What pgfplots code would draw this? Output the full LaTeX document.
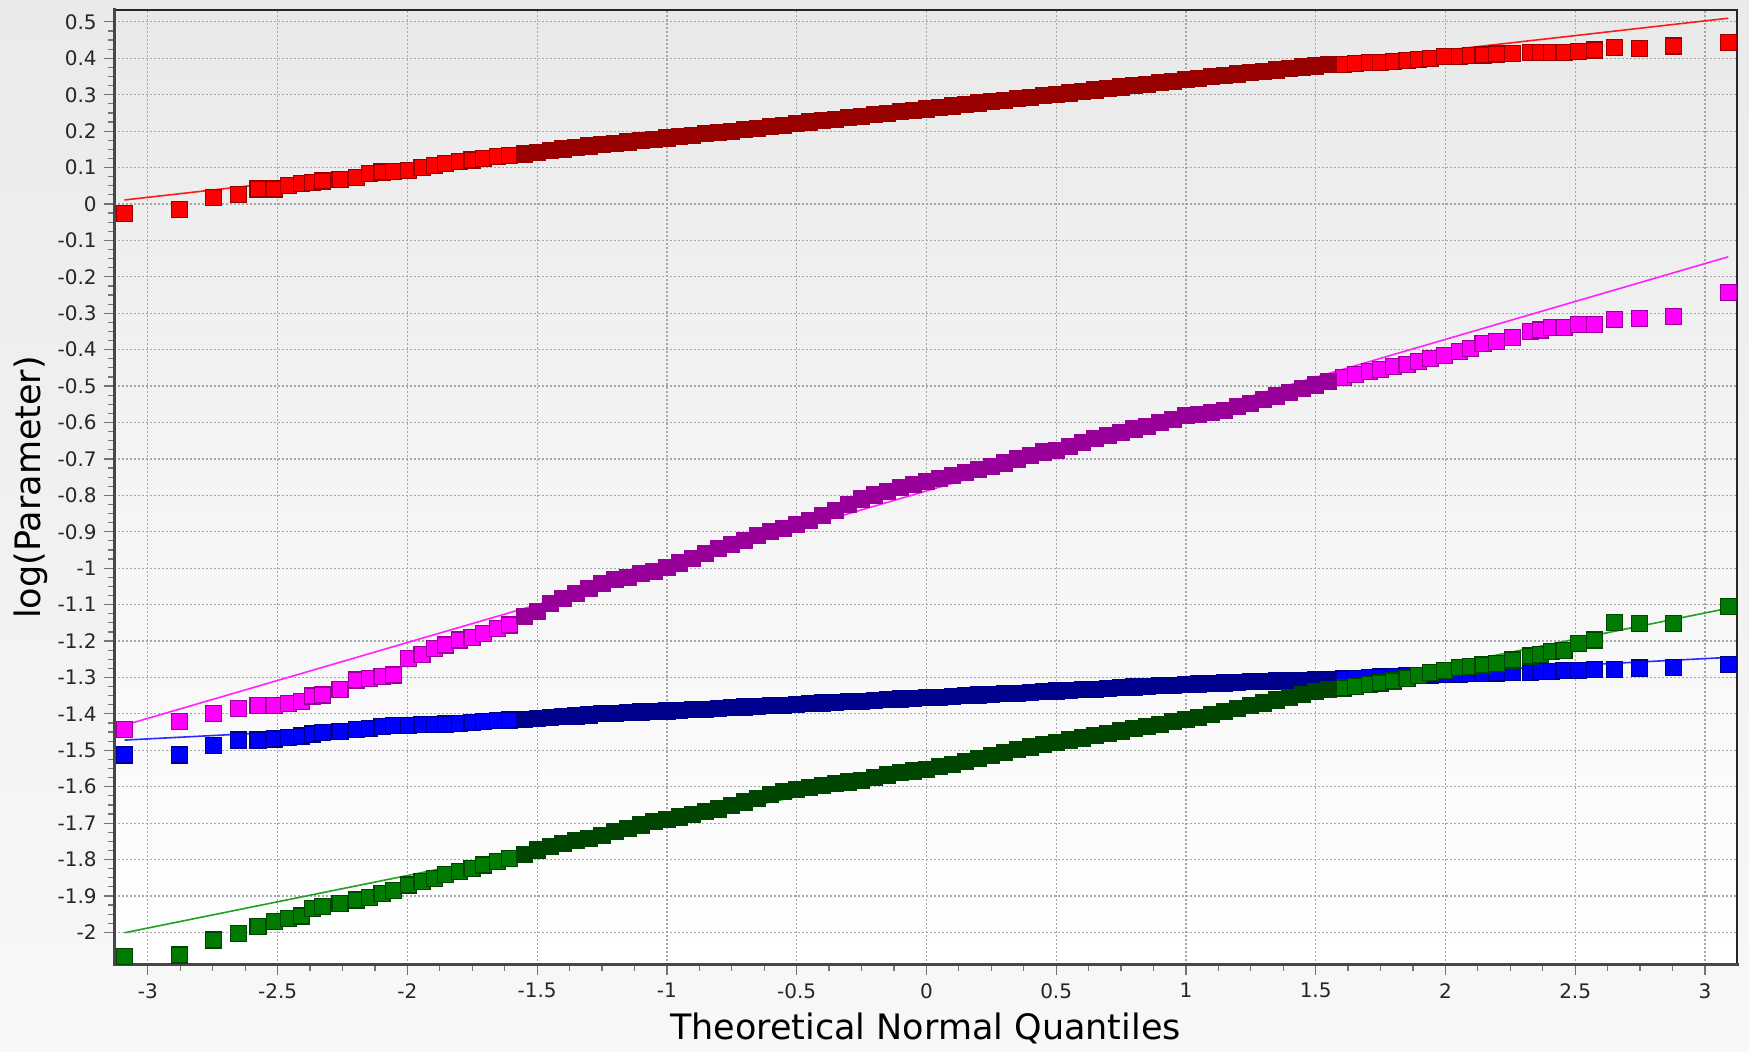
\documentclass[border=0pt]{standalone}
\usepackage{fontspec}
\setmainfont{DejaVu Sans}
\usepackage{pgfplots}
\usepackage{pgfplotstable}
\pgfplotsset{compat=1.18}

\definecolor{bgtop}{HTML}{EAEAEA}
\definecolor{bgbot}{HTML}{F8F8F8}
\definecolor{plottop}{HTML}{E9E9E9}
\definecolor{rfill}{HTML}{FF0000}
\definecolor{rdark}{HTML}{990000}
\definecolor{rline}{HTML}{FF1A1A}
\definecolor{mfill}{HTML}{FF00FF}
\definecolor{mdark}{HTML}{990099}
\definecolor{mline}{HTML}{FF22FF}
\definecolor{bfill}{HTML}{0000FF}
\definecolor{bdark}{HTML}{00008E}
\definecolor{bline}{HTML}{2A2AFF}
\definecolor{gfill}{HTML}{007A00}
\definecolor{gdark}{HTML}{004600}
\definecolor{gline}{HTML}{22A022}

% x = theoretical quantile; r, m, b, g = the four series
\pgfplotstableread{
x r m b g
-3.090 -0.026 -1.442 -1.513 -2.067
-2.878 -0.015 -1.421 -1.513 -2.062
-2.748 0.017 -1.400 -1.487 -2.021
-2.652 0.027 -1.385 -1.472 -2.004
-2.576 0.041 -1.378 -1.472 -1.984
-2.512 0.041 -1.376 -1.469 -1.971
-2.457 0.050 -1.371 -1.464 -1.961
-2.409 0.057 -1.367 -1.461 -1.955
-2.366 0.060 -1.351 -1.455 -1.934
-2.327 0.063 -1.348 -1.452 -1.929
-2.260 0.068 -1.334 -1.449 -1.920
-2.197 0.072 -1.307 -1.444 -1.911
-2.145 0.084 -1.302 -1.440 -1.904
-2.098 0.088 -1.298 -1.435 -1.893
-2.054 0.090 -1.293 -1.433 -1.884
-1.996 0.093 -1.247 -1.431 -1.870
-1.944 0.100 -1.238 -1.430 -1.861
-1.896 0.105 -1.220 -1.429 -1.852
-1.852 0.112 -1.211 -1.428 -1.842
-1.799 0.116 -1.197 -1.426 -1.833
-1.751 0.121 -1.190 -1.423 -1.824
-1.706 0.124 -1.179 -1.421 -1.815
-1.654 0.130 -1.165 -1.419 -1.806
-1.607 0.134 -1.156 -1.417 -1.797
1.607 0.384 -0.476 -1.304 -1.329
1.654 0.386 -0.469 -1.302 -1.325
1.706 0.388 -0.461 -1.300 -1.320
1.751 0.389 -0.455 -1.299 -1.315
1.799 0.391 -0.447 -1.297 -1.310
1.852 0.393 -0.440 -1.295 -1.302
1.896 0.397 -0.433 -1.294 -1.294
1.944 0.400 -0.425 -1.293 -1.286
1.996 0.404 -0.416 -1.292 -1.280
2.054 0.406 -0.404 -1.291 -1.273
2.098 0.407 -0.396 -1.290 -1.270
2.145 0.409 -0.384 -1.289 -1.266
2.197 0.412 -0.377 -1.288 -1.261
2.260 0.414 -0.366 -1.287 -1.252
2.327 0.416 -0.350 -1.286 -1.241
2.366 0.417 -0.346 -1.284 -1.236
2.409 0.417 -0.339 -1.284 -1.229
2.457 0.417 -0.339 -1.281 -1.225
2.512 0.418 -0.330 -1.281 -1.206
2.576 0.423 -0.330 -1.279 -1.197
2.652 0.429 -0.318 -1.279 -1.150
2.748 0.428 -0.314 -1.274 -1.151
2.878 0.434 -0.309 -1.273 -1.151
3.090 0.443 -0.243 -1.264 -1.106
}\tails

\pgfplotstableread{
x r m b g
-1.55 0.137 -1.133 -1.415 -1.787
-1.50 0.142 -1.119 -1.412 -1.774
-1.45 0.146 -1.097 -1.409 -1.765
-1.40 0.151 -1.083 -1.407 -1.755
-1.35 0.155 -1.069 -1.406 -1.748
-1.30 0.159 -1.055 -1.403 -1.742
-1.25 0.163 -1.042 -1.400 -1.733
-1.20 0.166 -1.032 -1.398 -1.723
-1.15 0.170 -1.025 -1.397 -1.714
-1.10 0.175 -1.015 -1.395 -1.705
-1.05 0.178 -1.010 -1.394 -1.696
-1.00 0.181 -0.999 -1.392 -1.690
-0.95 0.185 -0.986 -1.390 -1.683
-0.90 0.189 -0.973 -1.389 -1.676
-0.85 0.193 -0.960 -1.387 -1.669
-0.80 0.197 -0.947 -1.385 -1.661
-0.75 0.200 -0.935 -1.383 -1.652
-0.70 0.204 -0.923 -1.381 -1.642
-0.65 0.208 -0.910 -1.379 -1.632
-0.60 0.212 -0.900 -1.378 -1.622
-0.55 0.216 -0.892 -1.376 -1.614
-0.50 0.221 -0.881 -1.374 -1.608
-0.45 0.225 -0.868 -1.372 -1.602
-0.40 0.229 -0.855 -1.370 -1.597
-0.35 0.233 -0.841 -1.368 -1.592
-0.30 0.237 -0.826 -1.367 -1.587
-0.25 0.241 -0.810 -1.365 -1.582
-0.20 0.245 -0.799 -1.363 -1.575
-0.15 0.249 -0.789 -1.361 -1.568
-0.10 0.253 -0.779 -1.359 -1.562
-0.05 0.257 -0.770 -1.357 -1.557
0.00 0.261 -0.762 -1.356 -1.552
0.05 0.265 -0.753 -1.354 -1.545
0.10 0.269 -0.745 -1.352 -1.538
0.15 0.273 -0.737 -1.350 -1.530
0.20 0.277 -0.728 -1.348 -1.523
0.25 0.281 -0.720 -1.346 -1.514
0.30 0.285 -0.711 -1.345 -1.506
0.35 0.289 -0.700 -1.343 -1.498
0.40 0.293 -0.690 -1.341 -1.491
0.45 0.297 -0.681 -1.339 -1.484
0.50 0.301 -0.676 -1.337 -1.478
0.55 0.305 -0.665 -1.335 -1.472
0.60 0.309 -0.654 -1.334 -1.466
0.65 0.313 -0.644 -1.332 -1.460
0.70 0.317 -0.636 -1.330 -1.453
0.75 0.321 -0.627 -1.328 -1.447
0.80 0.325 -0.618 -1.326 -1.441
0.85 0.329 -0.610 -1.324 -1.435
0.90 0.333 -0.601 -1.323 -1.429
0.95 0.337 -0.591 -1.321 -1.422
1.00 0.341 -0.580 -1.320 -1.416
1.05 0.345 -0.578 -1.318 -1.410
1.10 0.349 -0.572 -1.317 -1.402
1.15 0.353 -0.566 -1.315 -1.394
1.20 0.357 -0.556 -1.314 -1.386
1.25 0.360 -0.547 -1.312 -1.378
1.30 0.364 -0.537 -1.311 -1.370
1.35 0.368 -0.527 -1.310 -1.362
1.40 0.372 -0.517 -1.309 -1.354
1.45 0.376 -0.507 -1.308 -1.346
1.50 0.379 -0.497 -1.307 -1.339
1.55 0.382 -0.487 -1.306 -1.334
}\mid

\pgfplotstableread{
x r m b g
-3.09 0.011 -1.431 -1.472 -2.001
3.09 0.510 -0.145 -1.245 -1.110
}\fits

\begin{document}
\begin{tikzpicture}
\useasboundingbox (0,0) rectangle (874.5pt,526pt);
\shade[top color=bgtop, bottom color=bgbot] (0,0) rectangle (874.5pt,526pt);
\begin{axis}[
  at={(57pt,43.5pt)}, anchor=south west,
  scale only axis, width=811.5pt, height=477.5pt,
  xmin=-3.1306, xmax=3.1237, ymin=-2.0895, ymax=0.5327,
  clip=false,
  axis line style={draw=none},
  axis background/.style={top color=plottop, bottom color=white},
  xtick={-3,-2.5,-2,-1.5,-1,-0.5,0,0.5,1,1.5,2,2.5,3},
  xticklabels={-3,-2.5,-2,-1.5,-1,-0.5,0,0.5,1,1.5,2,2.5,3},
  ytick={-2,-1.9,-1.8,-1.7,-1.6,-1.5,-1.4,-1.3,-1.2,-1.1,-1,-0.9,-0.8,-0.7,-0.6,-0.5,-0.4,-0.3,-0.2,-0.1,0,0.1,0.2,0.3,0.4,0.5},
  yticklabels={-2,-1.9,-1.8,-1.7,-1.6,-1.5,-1.4,-1.3,-1.2,-1.1,-1,-0.9,-0.8,-0.7,-0.6,-0.5,-0.4,-0.3,-0.2,-0.1,0,0.1,0.2,0.3,0.4,0.5},
  minor tick num=3,
  tick align=outside,
  xtick pos=bottom, ytick pos=left,
  major tick length=5pt, minor tick length=3pt,
  major tick style={line width=0.6pt, black!55},
  minor tick style={line width=0.6pt, black!55},
  grid=major,
  major grid style={line width=0.6pt, black!35, dash pattern=on 0.8pt off 1.2pt},
  xticklabel style={font=\fontsize{10}{12}\selectfont, text=black!85, inner sep=0pt, anchor=north, yshift=-4pt},
  yticklabel style={font=\fontsize{10}{12}\selectfont, text=black!85, inner sep=0pt, anchor=east, xshift=-3.5pt},
  xlabel={Theoretical Normal Quantiles},
  ylabel={log(Parameter)},
  xlabel style={font=\fontsize{17.5}{21}\selectfont, at={(axis description cs:0.5,-0.0785)}, anchor=base},
  ylabel style={font=\fontsize{17.5}{21}\selectfont, at={(axis description cs:-0.0456,0.5)}, anchor=base},
  mark size=4pt,
]
% red
\addplot[only marks, mark=square*, mark options={fill=rfill, draw=rdark, line width=0.6pt}] table[x=x, y=r] {\tails};
\addplot[only marks, mark=square*, mark options={fill=rdark, draw=rdark, line width=0.6pt}] table[x=x, y=r] {\mid};
\addplot[rline, line width=0.8pt, no marks] table[x=x, y=r] {\fits};
% magenta
\addplot[only marks, mark=square*, mark options={fill=mfill, draw=mdark, line width=0.6pt}] table[x=x, y=m] {\tails};
\addplot[only marks, mark=square*, mark options={fill=mdark, draw=mdark, line width=0.6pt}] table[x=x, y=m] {\mid};
\addplot[mline, line width=0.8pt, no marks] table[x=x, y=m] {\fits};
% blue
\addplot[only marks, mark=square*, mark options={fill=bfill, draw=bdark, line width=0.6pt}] table[x=x, y=b] {\tails};
\addplot[only marks, mark=square*, mark options={fill=bdark, draw=bdark, line width=0.6pt}] table[x=x, y=b] {\mid};
\addplot[bline, line width=0.8pt, no marks] table[x=x, y=b] {\fits};
% green
\addplot[only marks, mark=square*, mark options={fill=gfill, draw=gdark, line width=0.6pt}] table[x=x, y=g] {\tails};
\addplot[only marks, mark=square*, mark options={fill=gdark, draw=gdark, line width=0.6pt}] table[x=x, y=g] {\mid};
\addplot[gline, line width=0.8pt, no marks] table[x=x, y=g] {\fits};
% frame
\draw[line width=1pt, black!85] (rel axis cs:0,1) -- (rel axis cs:1,1) -- (rel axis cs:1,0);
\draw[line width=1.5pt, black!72, line cap=rect] (rel axis cs:0,1) -- (rel axis cs:0,0) -- (rel axis cs:1,0);
\end{axis}
\end{tikzpicture}
\end{document}
